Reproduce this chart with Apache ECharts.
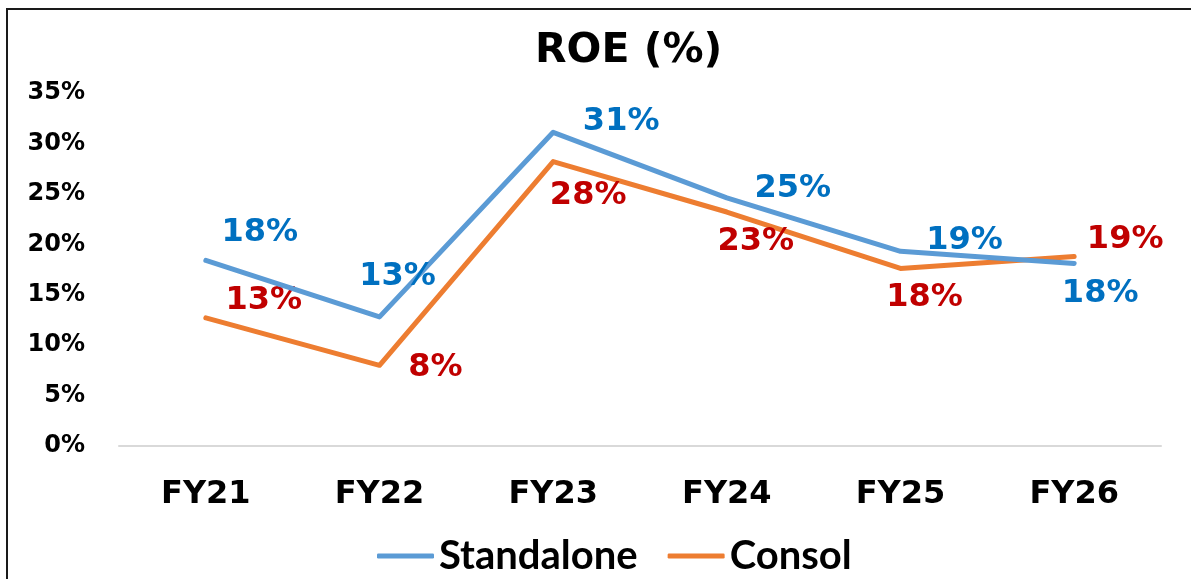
<!DOCTYPE html>
<html>
<head>
<meta charset="utf-8">
<script src="https://cdn.jsdelivr.net/npm/echarts@6/dist/echarts.min.js"></script>
<style>
  html, body { margin: 0; padding: 0; background: #fff; }
  #chart { width: 1191px; height: 579px; }
</style>
</head>
<body>
<div id="chart"></div>
<script>
// Datos (ROE en %)
const years = ['FY21', 'FY22', 'FY23', 'FY24', 'FY25', 'FY26'];
const standalone = [18.4, 12.8, 31.1, 24.6, 19.3, 18.1];
const consol = [12.7, 8.0, 28.2, 23.2, 17.6, 18.8];
const yTicks = [0, 5, 10, 15, 20, 25, 30, 35];

// Desplazamiento de cada etiqueta respecto a su punto (px)
const standaloneOffsets = [[54, -28], [18, -40], [68, -11], [66, -9], [64, -11], [26, 30]];
const consolOffsets = [[58, -17], [56, 2], [35, 34], [29, 30], [24, 29], [51, -17]];

const chart = echarts.init(document.getElementById('chart'), null, { renderer: 'canvas' });

const labelFont = 'DejaVu Sans';

function buildData(values, offsets, color) {
    return values.map((v, i) => ({
        value: v,
        label: {
            show: true,
            position: 'inside',
            offset: offsets[i],
            formatter: Math.round(v) + '%',
            color: color,
            fontFamily: labelFont,
            fontWeight: 'bold',
            fontSize: 32
        }
    }));
}

const option = {
    backgroundColor: '#ffffff',
    animation: false,
    title: {
        text: 'ROE (%)',
        left: 530,
        top: 26,
        textStyle: {
            fontFamily: labelFont,
            fontWeight: 'bold',
            fontSize: 41,
            color: '#000'
        }
    },
    legend: {
        data: ['Standalone', 'Consol'],
        left: 372,
        top: 531,
        icon: 'roundRect',
        itemWidth: 57,
        itemHeight: 5,
        itemGap: 30,
        textStyle: {
            fontFamily: 'Lato',
            fontWeight: 'bold',
            fontSize: 40,
            color: '#000'
        }
    },
    grid: {
        left: 119,
        right: 30,
        top: 93,
        bottom: 133
    },
    xAxis: {
        type: 'category',
        data: years,
        boundaryGap: true,
        axisLine: { show: true, lineStyle: { color: '#D9D9D9', width: 2 } },
        axisTick: { show: false },
        axisLabel: {
            margin: 33,
            color: '#000',
            fontFamily: labelFont,
            fontWeight: 'bold',
            fontSize: 32
        }
    },
    yAxis: {
        type: 'value',
        min: yTicks[0],
        max: yTicks[yTicks.length - 1],
        interval: 5,
        axisLine: { show: false },
        axisTick: { show: false },
        splitLine: { show: false },
        axisLabel: {
            margin: 34,
            formatter: '{value}%',
            color: '#000',
            fontFamily: labelFont,
            fontWeight: 'bold',
            fontSize: 24
        }
    },
    series: [
        {
            name: 'Standalone',
            type: 'line',
            data: buildData(standalone, standaloneOffsets, '#0070C0'),
            symbol: 'circle',
            symbolSize: 2,
            itemStyle: { color: '#5B9BD5' },
            lineStyle: { color: '#5B9BD5', width: 5, cap: 'round', join: 'round' },
            z: 3
        },
        {
            name: 'Consol',
            type: 'line',
            data: buildData(consol, consolOffsets, '#C00000'),
            symbol: 'circle',
            symbolSize: 2,
            itemStyle: { color: '#ED7D31' },
            lineStyle: { color: '#ED7D31', width: 5, cap: 'round', join: 'round' },
            z: 2
        }
    ],
    graphic: [
        {
            type: 'rect',
            silent: true,
            shape: { x: 7, y: 9, width: 1300, height: 700 },
            style: { fill: 'none', stroke: '#1a1a1a', lineWidth: 2 }
        }
    ]
};

chart.setOption(option);
</script>
</body>
</html>
